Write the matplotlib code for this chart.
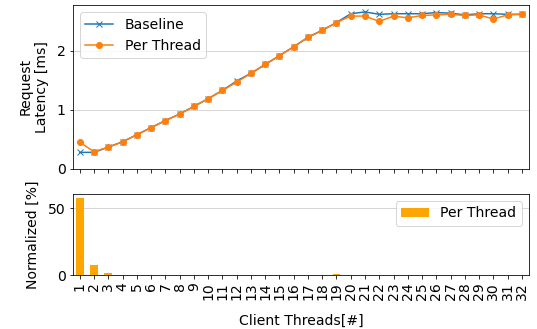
import matplotlib
matplotlib.use("Agg")
import matplotlib.pyplot as plt
import numpy as np

# hilos de cliente 1..32
threads = list(range(1, 33))

baseline = [0.28, 0.28, 0.37, 0.46, 0.58, 0.70, 0.82, 0.93, 1.06, 1.19,
            1.33, 1.49, 1.62, 1.77, 1.92, 2.07, 2.23, 2.35, 2.48, 2.63,
            2.66, 2.62, 2.63, 2.63, 2.63, 2.65, 2.64, 2.61, 2.63, 2.63,
            2.62, 2.62]
per_thread = [0.45, 0.29, 0.37, 0.46, 0.58, 0.70, 0.82, 0.93, 1.06, 1.19,
              1.33, 1.47, 1.62, 1.77, 1.92, 2.07, 2.23, 2.35, 2.48, 2.59,
              2.59, 2.50, 2.59, 2.56, 2.60, 2.61, 2.62, 2.60, 2.61, 2.54,
              2.61, 2.62]
normalized = [58, 7.5, 1.5, 0, 0, 0, 0, 0, 0, 0,
              0, 0, 0, 0, 0, 0, 0, 0, 0.5, 0,
              0, 0, 0, 0, 0, 0, 0, 0, 0, 0,
              0, 0]

plt.rcParams["font.size"] = 14

DPI = 72
fig, (ax1, ax2) = plt.subplots(2, 1, figsize=(537 / DPI, 329 / DPI), dpi=DPI, sharex=True,
                               gridspec_kw={"height_ratios": [2.02, 1], "hspace": 0.204})
fig.subplots_adjust(left=0.1355, right=0.985, top=0.985, bottom=0.164)

ax1.plot(threads, baseline, "x-", color="C0", label="Baseline")
ax1.plot(threads, per_thread, "o-", color="C1", label="Per Thread")
ax1.set_ylim(bottom=0)
ax1.set_ylabel("Request\nLatency [ms]", labelpad=8)
ax1.grid(axis="y", color="#cccccc")
ax1.set_axisbelow(True)
ax1.legend(loc="upper left")
ax1.tick_params(axis="x", labelbottom=False)

ax2.bar(threads, normalized, width=0.55, color="orange", label="Per Thread")
ax2.set_ylabel("Normalized [%]", labelpad=8)
ax2.set_xlabel("Client Threads[#]", labelpad=14)
ax2.grid(axis="y", color="#cccccc")
ax2.set_axisbelow(True)
ax2.legend(loc="upper right")
ax2.set_xlim(0.5, 32.5)
ax2.set_xticks(threads)
ax2.set_xticklabels([str(t) for t in threads], rotation=90)

fig.savefig("out.png", dpi=DPI)
